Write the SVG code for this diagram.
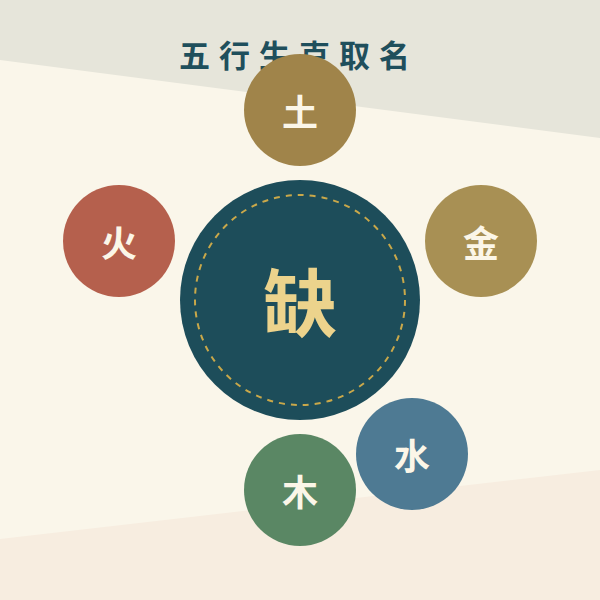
<svg xmlns="http://www.w3.org/2000/svg" width="600" height="600" viewBox="0 0 600 600">
<style>
.bg{fill:#faf6ea}
.el{font-family:"Noto Sans CJK SC","Noto Sans CJK JP",sans-serif;font-size:36px;font-weight:700;fill:#fbf6e8;text-anchor:middle;dominant-baseline:central}
.title{font-family:"Noto Sans CJK SC","Noto Sans CJK JP",sans-serif;font-size:31px;font-weight:700;fill:#1f4f5c;letter-spacing:9px}
</style>
<rect class="bg" x="0" y="0" width="600" height="600"/>
<polygon points="0,0 600,0 600,138 0,60" fill="#e6e5da"/>
<polygon points="0,539 600,470 600,600 0,600" fill="#f7ede0"/>
<text class="title" x="179" y="67">五行生克取名</text>
<g id="connectors"></g>
<g id="center">
<circle cx="300" cy="300" r="120" fill="#1d4d5a"/>
<circle cx="300" cy="300" r="105" fill="none" stroke="#c9a84a" stroke-width="2" stroke-dasharray="6,6"/>
<text x="300" y="298" font-family="'Noto Sans CJK SC','Noto Sans CJK JP',sans-serif" font-size="74" font-weight="700" fill="#ecd38c" text-anchor="middle" dominant-baseline="central">缺</text>
</g>
<g id="earth">
<circle cx="300" cy="110" r="56" fill="#a0844a"/>
<text class="el" x="300" y="110">土</text>
</g>
<g id="fire">
<circle cx="119" cy="241" r="56" fill="#b5604d"/>
<text class="el" x="119" y="241">火</text>
</g>
<g id="metal">
<circle cx="481" cy="241" r="56" fill="#a89054"/>
<text class="el" x="481" y="241">金</text>
</g>
<g id="water">
<circle cx="412" cy="454" r="56" fill="#4e7a93"/>
<text class="el" x="412" y="454">水</text>
</g>
<g id="wood">
<circle cx="300" cy="490" r="56" fill="#5a8764"/>
<text class="el" x="300" y="490">木</text>
</g>
</svg>
